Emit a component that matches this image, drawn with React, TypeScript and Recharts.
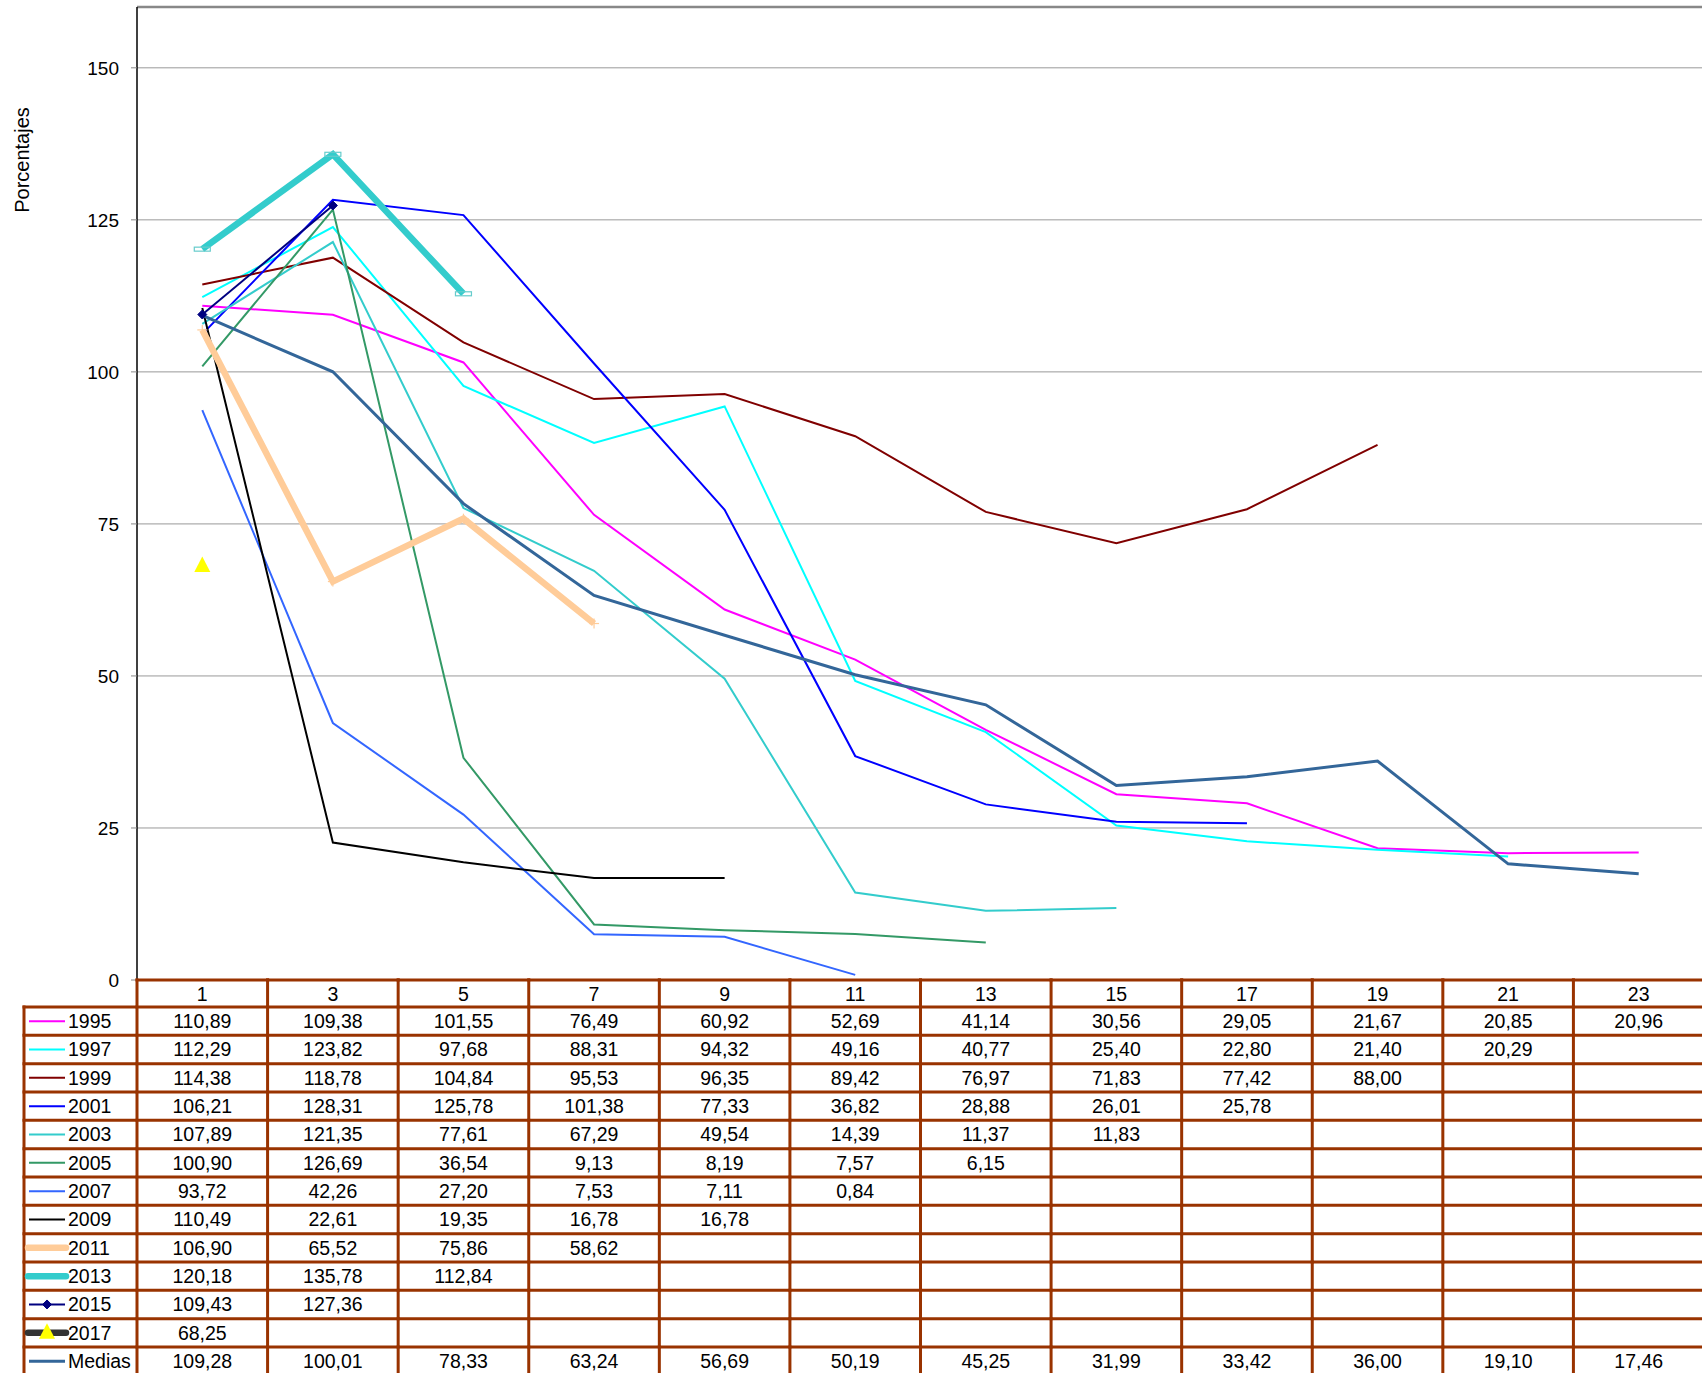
import React from 'react';
import { LineChart, Line, XAxis, YAxis, CartesianGrid, ReferenceLine, Label } from 'recharts';

// ---------- data ----------
const categories = [1, 3, 5, 7, 9, 11, 13, 15, 17, 19, 21, 23];
const yTicks = [0, 25, 50, 75, 100, 125, 150];

const s1995 = [110.89, 109.38, 101.55, 76.49, 60.92, 52.69, 41.14, 30.56, 29.05, 21.67, 20.85, 20.96];
const s1997 = [112.29, 123.82, 97.68, 88.31, 94.32, 49.16, 40.77, 25.4, 22.8, 21.4, 20.29, null];
const s1999 = [114.38, 118.78, 104.84, 95.53, 96.35, 89.42, 76.97, 71.83, 77.42, 88.0, null, null];
const s2001 = [106.21, 128.31, 125.78, 101.38, 77.33, 36.82, 28.88, 26.01, 25.78, null, null, null];
const s2003 = [107.89, 121.35, 77.61, 67.29, 49.54, 14.39, 11.37, 11.83, null, null, null, null];
const s2005 = [100.9, 126.69, 36.54, 9.13, 8.19, 7.57, 6.15, null, null, null, null, null];
const s2007 = [93.72, 42.26, 27.2, 7.53, 7.11, 0.84, null, null, null, null, null, null];
const s2009 = [110.49, 22.61, 19.35, 16.78, 16.78, null, null, null, null, null, null, null];
const s2011 = [106.9, 65.52, 75.86, 58.62, null, null, null, null, null, null, null, null];
const s2013 = [120.18, 135.78, 112.84, null, null, null, null, null, null, null, null, null];
const s2015 = [109.43, 127.36, null, null, null, null, null, null, null, null, null, null];
const s2017 = [68.25, null, null, null, null, null, null, null, null, null, null, null];
const medias = [109.28, 100.01, 78.33, 63.24, 56.69, 50.19, 45.25, 31.99, 33.42, 36.0, 19.1, 17.46];

type Mark = 'none' | 'plus' | 'rect' | 'diamond' | 'triangle';
interface Series { key: string; label: string; values: (number | null)[]; color: string; width: number; mark: Mark; }

const series: Series[] = [
  { key: 'y1995', label: '1995', values: s1995, color: '#FF00FF', width: 2, mark: 'none' },
  { key: 'y1997', label: '1997', values: s1997, color: '#00FFFF', width: 2, mark: 'none' },
  { key: 'y1999', label: '1999', values: s1999, color: '#800000', width: 2, mark: 'none' },
  { key: 'y2001', label: '2001', values: s2001, color: '#0000FF', width: 2, mark: 'none' },
  { key: 'y2003', label: '2003', values: s2003, color: '#33CCCC', width: 2, mark: 'none' },
  { key: 'y2005', label: '2005', values: s2005, color: '#339966', width: 2, mark: 'none' },
  { key: 'y2007', label: '2007', values: s2007, color: '#3366FF', width: 2, mark: 'none' },
  { key: 'y2009', label: '2009', values: s2009, color: '#000000', width: 2, mark: 'none' },
  { key: 'y2011', label: '2011', values: s2011, color: '#FFCC99', width: 6.5, mark: 'plus' },
  { key: 'y2013', label: '2013', values: s2013, color: '#33CCCC', width: 6.5, mark: 'rect' },
  { key: 'y2015', label: '2015', values: s2015, color: '#000080', width: 2, mark: 'diamond' },
  { key: 'y2017', label: '2017', values: s2017, color: '#333333', width: 6.5, mark: 'triangle' },
  { key: 'medias', label: 'Medias', values: medias, color: '#336699', width: 3, mark: 'none' },
];

const data = categories.map((c, i) => {
  const row: Record<string, number | null> = { x: c };
  series.forEach((s) => { row[s.key] = s.values[i]; });
  return row;
});

// ---------- layout ----------
const FONT = '"Liberation Sans", Arial, Helvetica, sans-serif';
const FS = 19.5;
const CHART_W = 1720;
const CHART_H = 1373;
const M_TOP = 7;
const M_RIGHT = 16;
const Y_W = 137;
const X_H = 393;
const PLOT_W = CHART_W - M_RIGHT - Y_W;
const COL_W = PLOT_W / categories.length;
const TABLE_TOP = CHART_H - X_H;
const HEADER_H = 27;
const ROW_H = 28.33;
const BORDER = '#993300';
const BW = 3;
const LEGEND_LEFT = 24;

const fmt = (v: number) => v.toFixed(2).replace('.', ',');

function markShape(mark: Mark, cx: number, cy: number, key?: string) {
  switch (mark) {
    case 'plus':
      return (
        <g key={key}>
          <line x1={cx - 5} y1={cy} x2={cx + 5} y2={cy} stroke="#FFCC99" strokeWidth={1.2} />
          <line x1={cx} y1={cy - 5} x2={cx} y2={cy + 5} stroke="#FFCC99" strokeWidth={1.2} />
        </g>
      );
    case 'rect':
      return <rect key={key} x={cx - 8} y={cy - 2} width={16} height={4} fill="none" stroke="#66CCCC" strokeWidth={1.2} />;
    case 'diamond':
      return <path key={key} d={`M${cx},${cy - 4.5}L${cx + 4.5},${cy}L${cx},${cy + 4.5}L${cx - 4.5},${cy}Z`} fill="#000080" stroke="#000080" strokeWidth={1} />;
    case 'triangle':
      return <path key={key} d={`M${cx},${cy - 8.5}L${cx + 8},${cy + 7}L${cx - 8},${cy + 7}Z`} fill="#FFFF00" stroke="none" />;
    default:
      return <g key={key} />;
  }
}

const makeDot = (mark: Mark) => (props: any) => {
  const { cx, cy, value, index } = props;
  const k = `d-${mark}-${index}`;
  if (value == null || cx == null || cy == null || isNaN(cx) || isNaN(cy)) return <g key={k} />;
  return markShape(mark, cx, cy, k);
};

const textStyle = { fontFamily: FONT, fontSize: FS, fill: '#000' };

function TableTick(props: any) {
  const { x, payload } = props;
  const ci = categories.indexOf(payload.value);
  const left = x - COL_W / 2;
  const right = x + COL_W / 2;
  const rowTop = TABLE_TOP + HEADER_H;
  const bottom = rowTop + ROW_H * series.length;
  const els: React.ReactNode[] = [];

  els.push(
    <text key="h" x={x} y={TABLE_TOP + HEADER_H / 2 + 7} textAnchor="middle" style={textStyle}>
      {payload.value}
    </text>
  );
  series.forEach((s, ri) => {
    const v = s.values[ci];
    if (v != null) {
      els.push(
        <text key={`c${ri}`} x={x} y={rowTop + ROW_H * ri + ROW_H / 2 + 7} textAnchor="middle" style={textStyle}>
          {fmt(v)}
        </text>
      );
    }
  });
  els.push(<line key="ht" x1={left - 1.5} x2={right + 1.5} y1={TABLE_TOP} y2={TABLE_TOP} stroke={BORDER} strokeWidth={BW} />);
  for (let r = 0; r <= series.length; r++) {
    const yy = rowTop + r * ROW_H;
    els.push(<line key={`hr${r}`} x1={left - 1.5} x2={right + 1.5} y1={yy} y2={yy} stroke={BORDER} strokeWidth={BW} />);
  }
  els.push(<line key="vl" x1={left} x2={left} y1={TABLE_TOP - 1.5} y2={bottom + 2} stroke={BORDER} strokeWidth={BW} />);
  if (ci === categories.length - 1) {
    els.push(<line key="vr" x1={right} x2={right} y1={TABLE_TOP - 1.5} y2={bottom + 2} stroke={BORDER} strokeWidth={BW} />);
  }

  if (ci === 0) {
    els.push(<line key="lgl" x1={LEGEND_LEFT} x2={LEGEND_LEFT} y1={rowTop - 1.5} y2={bottom + 2} stroke={BORDER} strokeWidth={BW} />);
    for (let r = 0; r <= series.length; r++) {
      const yy = rowTop + r * ROW_H;
      els.push(<line key={`lh${r}`} x1={LEGEND_LEFT - 1.5} x2={left} y1={yy} y2={yy} stroke={BORDER} strokeWidth={BW} />);
    }
    series.forEach((s, ri) => {
      const cy = rowTop + ROW_H * ri + ROW_H / 2;
      const thick = s.width >= 6;
      const x1 = thick ? 28 : 29;
      const x2 = thick ? 66 : 65;
      els.push(
        <line key={`ls${ri}`} x1={x1} x2={x2} y1={cy} y2={cy} stroke={s.color} strokeWidth={s.width} strokeLinecap={thick ? 'round' : 'butt'} />
      );
      if (s.mark === 'diamond' || s.mark === 'triangle') {
        els.push(markShape(s.mark, 47, s.mark === 'triangle' ? cy - 1 : cy, `lm${ri}`));
      }
      els.push(
        <text key={`lt${ri}`} x={68} y={cy + 7} textAnchor="start" style={textStyle}>
          {s.label}
        </text>
      );
    });
  }
  return <g>{els}</g>;
}

export default function App() {
  return (
    <div style={{ position: 'absolute', left: 0, top: 0, width: 1702, height: 1373, overflow: 'hidden', background: '#fff' }}>
      <LineChart width={CHART_W} height={CHART_H} data={data} margin={{ top: M_TOP, right: M_RIGHT, left: 0, bottom: 0 }}>
        <CartesianGrid vertical={false} stroke="#999999" strokeWidth={1} />
        <ReferenceLine y={160} stroke="#888888" strokeWidth={2.5} />
        <XAxis
          dataKey="x"
          type="category"
          scale="point"
          padding={{ left: COL_W / 2, right: COL_W / 2 }}
          height={X_H}
          axisLine={false}
          tickLine={false}
          interval={0}
          tick={(p: any) => <TableTick {...p} />}
        />
        <YAxis
          type="number"
          domain={[0, 160]}
          ticks={yTicks}
          width={Y_W}
          axisLine={{ stroke: '#000', strokeWidth: 1.5 }}
          tickLine={{ stroke: '#888' }}
          tickSize={6}
          tickMargin={12}
          tick={{ fill: '#000', fontSize: 19, fontFamily: FONT }}
        >
          <Label
            content={() => (
              <text x={28.5} y={160} transform="rotate(-90 28.5 160)" textAnchor="middle" style={{ ...textStyle, fontSize: 20 }}>
                Porcentajes
              </text>
            )}
          />
        </YAxis>
        {series.map((s) => (
          <Line
            key={s.key}
            dataKey={s.key}
            type="linear"
            stroke={s.color}
            strokeWidth={s.width}
            dot={s.mark === 'none' ? false : makeDot(s.mark)}
            activeDot={false}
            connectNulls={false}
            isAnimationActive={false}
          />
        ))}
      </LineChart>
    </div>
  );
}
